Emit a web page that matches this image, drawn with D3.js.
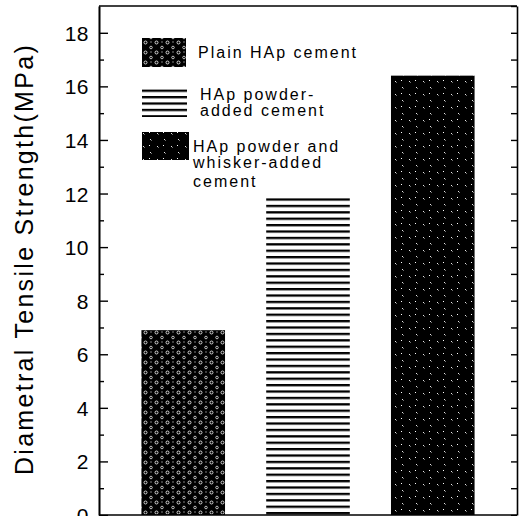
<!DOCTYPE html>
<html>
<head>
<meta charset="utf-8">
<script src="https://cdn.jsdelivr.net/npm/d3@7"></script>
<style>
  body { margin: 0; background: #fff; }
  svg { display: block; }
  text { font-family: "Liberation Sans", Arial, sans-serif; fill: #000; }
</style>
</head>
<body>
<div id="chart"></div>
<script>
// data
const categories = ["Plain HAp cement", "HAp powder-added cement", "HAp powder and whisker-added cement"];
const strengths = [6.9, 11.9, 16.4];
const majorTicks = [0, 2, 4, 6, 8, 10, 12, 14, 16, 18];
const minorTicks = [1, 3, 5, 7, 9, 11, 13, 15, 17];
const rightTicks = d3.range(0, 20);
const legendLines = [
  ["Plain HAp cement"],
  ["HAp powder-", "added cement"],
  ["HAp powder and", "whisker-added", "cement"]
];
const patternIds = ["dots", "stripes", "specks"];

const W = 526, H = 516;
const plot = {left: 99, right: 517, top: 6, bottom: 515};

const svg = d3.select("#chart").append("svg")
  .attr("width", W)
  .attr("height", H);

// fill patterns
const defs = svg.append("defs");

// black with little white rings
const p1 = defs.append("pattern")
  .attr("id", "dots")
  .attr("patternUnits", "userSpaceOnUse")
  .attr("width", 11).attr("height", 10);
p1.append("rect").attr("width", 11).attr("height", 10).attr("fill", "#000");
p1.append("circle").attr("cx", 2.5).attr("cy", 2.5).attr("r", 1.5)
  .attr("fill", "none").attr("stroke", "#fff").attr("stroke-width", 0.8);
p1.append("circle").attr("cx", 8).attr("cy", 7.5).attr("r", 1.3)
  .attr("fill", "none").attr("stroke", "#fff").attr("stroke-width", 0.7);
p1.append("rect").attr("x", 7.5).attr("y", 1.5).attr("width", 1).attr("height", 1).attr("fill", "#fff");

// horizontal black stripes
const p2 = defs.append("pattern")
  .attr("id", "stripes")
  .attr("patternUnits", "userSpaceOnUse")
  .attr("width", 20).attr("height", 6.4);
p2.append("rect").attr("width", 20).attr("height", 6.4).attr("fill", "#fff");
p2.append("rect").attr("y", 0).attr("width", 20).attr("height", 2.3).attr("fill", "#000");

// black with sparse white specks
const p3 = defs.append("pattern")
  .attr("id", "specks")
  .attr("patternUnits", "userSpaceOnUse")
  .attr("width", 14).attr("height", 13);
p3.append("rect").attr("width", 14).attr("height", 13).attr("fill", "#000");
p3.append("line").attr("x1", 3).attr("y1", 3).attr("x2", 4.5).attr("y2", 4.5)
  .attr("stroke", "#fff").attr("stroke-width", 0.9);
p3.append("line").attr("x1", 10).attr("y1", 9).attr("x2", 11.5).attr("y2", 10.5)
  .attr("stroke", "#fff").attr("stroke-width", 0.9);
p3.append("rect").attr("x", 9).attr("y", 2).attr("width", 1).attr("height", 1).attr("fill", "#fff");

// scales
const x = d3.scaleBand()
  .domain(categories)
  .range([plot.left, plot.right])
  .paddingInner(0.33)
  .paddingOuter(0.34);

const y = d3.scaleLinear()
  .domain([0, 19])
  .range([plot.bottom, plot.top]);

// bars
svg.append("g")
  .selectAll("rect")
  .data(strengths)
  .join("rect")
    .attr("x", (d, i) => x(categories[i]))
    .attr("y", d => y(d))
    .attr("width", x.bandwidth())
    .attr("height", d => y(0) - y(d))
    .attr("fill", (d, i) => `url(#${patternIds[i]})`);

// left axis, ticks pointing inward
const leftAxis = svg.append("g")
  .attr("transform", `translate(${plot.left},0)`)
  .call(d3.axisLeft(y).tickValues(majorTicks).tickSizeInner(-9).tickSizeOuter(0).tickPadding(10));
leftAxis.selectAll("text")
  .style("font-size", "21px")
  .style("letter-spacing", "0.5px")
  .attr("dy", "0.36em");

svg.append("g")
  .attr("transform", `translate(${plot.left},0)`)
  .call(d3.axisLeft(y).tickValues(minorTicks).tickSizeInner(-5).tickSizeOuter(0).tickFormat(""));

// right axis, ticks pointing inward
svg.append("g")
  .attr("transform", `translate(${plot.right},0)`)
  .call(d3.axisRight(y).tickValues(rightTicks).tickSizeInner(-6).tickSizeOuter(0).tickFormat(""));

svg.selectAll(".domain").attr("stroke-width", 1.6);
svg.selectAll(".tick line").attr("stroke-width", 1.4);

// top and bottom frame
svg.append("line")
  .attr("x1", plot.left).attr("x2", plot.right)
  .attr("y1", plot.top).attr("y2", plot.top)
  .attr("stroke", "#000").attr("stroke-width", 1.6);
svg.append("line")
  .attr("x1", plot.left).attr("x2", plot.right)
  .attr("y1", plot.bottom).attr("y2", plot.bottom)
  .attr("stroke", "#000").attr("stroke-width", 1.6);

// y axis title
svg.append("text")
  .attr("transform", `translate(33,${(45 + 473) / 2}) rotate(-90)`)
  .attr("text-anchor", "middle")
  .style("font-size", "25px")
  .style("letter-spacing", "2.3px")
  .text("Diametral Tensile Strength(MPa)");

// legend
const swatches = [
  {x: 142, y: 38, w: 44, h: 29},
  {x: 142, y: 88, w: 45, h: 29},
  {x: 142, y: 132, w: 47, h: 28}
];
const textPos = [
  {x: 198, y: [58]},
  {x: 200, y: [100, 116]},
  {x: 193, y: [151.5, 168, 187]}
];

const legend = svg.append("g");
legendLines.forEach((lines, i) => {
  legend.append("rect")
    .attr("x", swatches[i].x)
    .attr("y", swatches[i].y)
    .attr("width", swatches[i].w)
    .attr("height", swatches[i].h)
    .attr("fill", `url(#${patternIds[i]})`);
  const t = legend.append("text")
    .style("font-size", "16px")
    .style("letter-spacing", "2px");
  lines.forEach((line, j) => {
    t.append("tspan")
      .attr("x", textPos[i].x)
      .attr("y", textPos[i].y[j])
      .text(line);
  });
});
</script>
</body>
</html>
